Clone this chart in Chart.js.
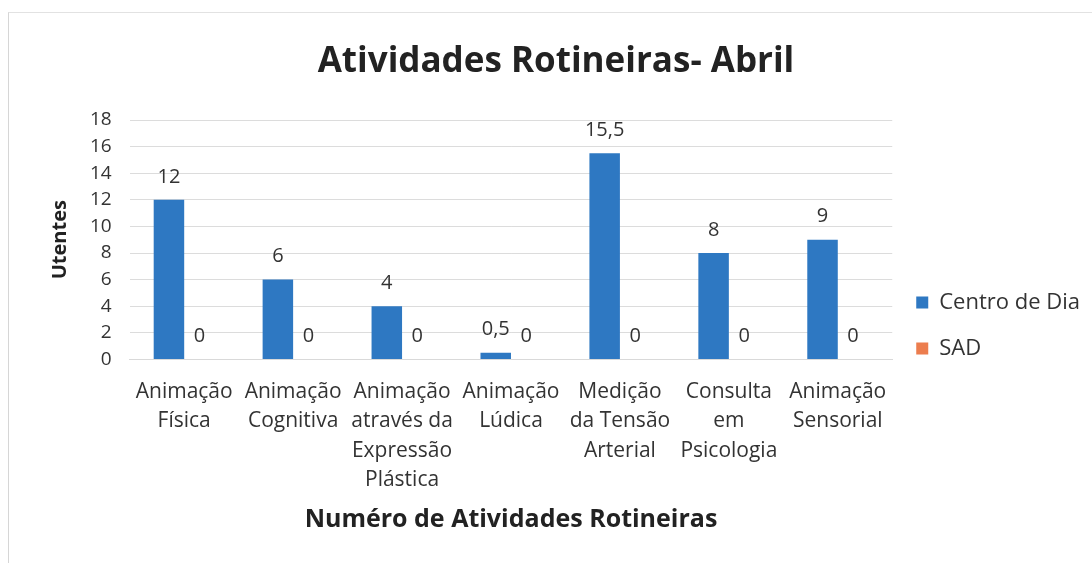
<!DOCTYPE html>
<html>
<head>
<meta charset="utf-8">
<script src="https://cdn.jsdelivr.net/npm/chart.js@4/dist/chart.umd.min.js"></script>
<style>
  html, body { margin: 0; padding: 0; background: #fff; }
  #wrap { position: relative; width: 1092px; height: 563px; }
  #frame { position: absolute; left: 8px; top: 12px; right: 0; bottom: 0;
           border-left: 1px solid #d6d6d6; border-top: 1px solid #e2e2e2; pointer-events: none; }
</style>
</head>
<body>
<div id="wrap">
  <canvas id="chart" width="1092" height="563"></canvas>
  <div id="frame"></div>
</div>
<script>
const categories = [
  ['Animação', 'Física'],
  ['Animação', 'Cognitiva'],
  ['Animação', 'através da', 'Expressão', 'Plástica'],
  ['Animação', 'Lúdica'],
  ['Medição', 'da Tensão', 'Arterial'],
  ['Consulta', 'em', 'Psicologia'],
  ['Animação', 'Sensorial']
];
const centroDia = [12, 6, 4, 0.5, 15.5, 8, 9];
const sad = [0, 0, 0, 0, 0, 0, 0];

const FONT = '"Open Sans", sans-serif';
const TEXT = '#333333';

// draws the value above every bar, like Excel's data labels
const valueLabels = {
  id: 'valueLabels',
  afterDatasetsDraw(chart) {
    const ctx = chart.ctx;
    ctx.save();
    ctx.font = '20px ' + FONT;
    ctx.fillStyle = TEXT;
    ctx.textAlign = 'center';
    ctx.textBaseline = 'middle';
    chart.data.datasets.forEach((ds, i) => {
      const meta = chart.getDatasetMeta(i);
      meta.data.forEach((bar, j) => {
        const txt = String(ds.data[j]).replace('.', ',');
        ctx.fillText(txt, bar.x, bar.y - 23);
      });
    });
    ctx.restore();
  }
};

new Chart(document.getElementById('chart').getContext('2d'), {
  type: 'bar',
  data: {
    labels: categories,
    datasets: [
      { label: 'Centro de Dia', data: centroDia, backgroundColor: '#2e78c2',
        categoryPercentage: 0.56, barPercentage: 1.0 },
      { label: 'SAD', data: sad, backgroundColor: '#ec7d4e',
        categoryPercentage: 0.56, barPercentage: 1.0 }
    ]
  },
  options: {
    responsive: false,
    animation: false,
    layout: { padding: { left: 22, right: 2, top: 0, bottom: 24 } },
    plugins: {
      title: {
        display: true,
        text: 'Atividades Rotineiras- Abril',
        color: '#222',
        font: { family: FONT, size: 35, weight: 'bold', lineHeight: 1.2 },
        padding: { top: 41, bottom: 37 }
      },
      legend: {
        position: 'right',
        title: { display: true, text: ' ', padding: { top: 100, bottom: 0 }, font: { size: 10 } },
        labels: {
          color: TEXT,
          font: { family: FONT, size: 22 },
          boxWidth: 12,
          boxHeight: 12,
          padding: 24
        }
      },
      tooltip: { enabled: false }
    },
    scales: {
      x: {
        grid: { display: false },
        border: { color: '#d9d9d9' },
        ticks: {
          color: TEXT,
          font: { family: FONT, size: 21, lineHeight: 1.4 },
          maxRotation: 0,
          autoSkip: false,
          padding: 10
        },
        title: {
          display: true,
          text: 'Numéro de Atividades Rotineiras',
          color: '#222',
          font: { family: FONT, size: 25, weight: 'bold' },
          padding: { top: 0 }
        }
      },
      y: {
        min: 0,
        max: 18,
        ticks: {
          stepSize: 2,
          autoSkip: false,
          color: TEXT,
          font: { family: FONT, size: 19 },
          padding: 18
        },
        grid: { color: '#dcdcdc', drawTicks: false },
        border: { display: false },
        title: {
          display: true,
          text: 'Utentes',
          color: '#222',
          font: { family: FONT, size: 20, weight: 'bold' },
          padding: { top: 26, bottom: 0 }
        }
      }
    }
  },
  plugins: [valueLabels]
});
</script>
</body>
</html>
